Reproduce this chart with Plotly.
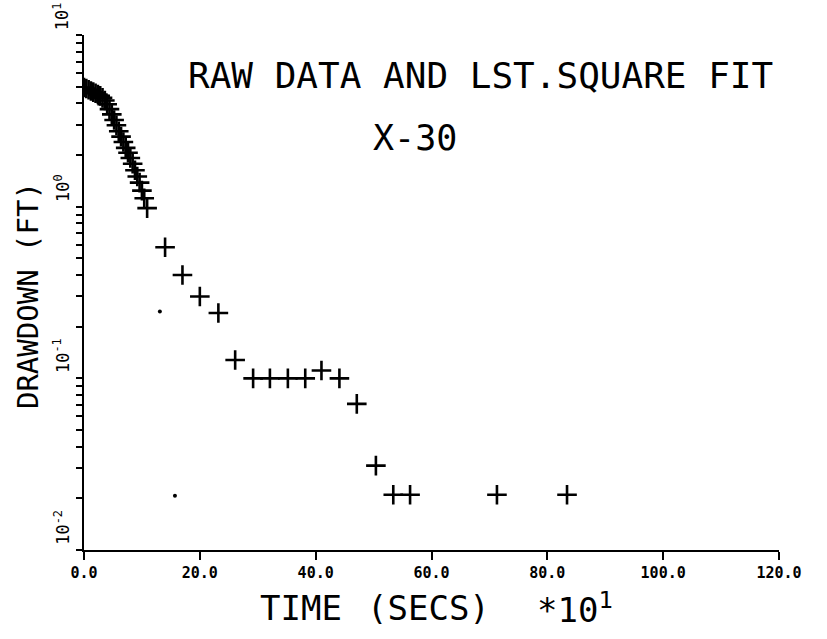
import plotly.graph_objects as go

# ---- data (time in units of 10 s, drawdown in ft) ----
cluster_time = [0.0, 0.4, 0.8, 1.2, 1.6, 2.0, 2.4, 2.8, 3.2, 3.6, 4.0, 4.4, 4.8, 5.2,
                5.6, 6.0, 6.4, 6.8, 7.2, 7.6, 8.0, 8.4, 8.8, 9.2, 9.6, 10.0, 10.4, 10.9]
cluster_drawdown = [4.95, 4.88, 4.80, 4.72, 4.65, 4.58, 4.50, 4.42, 4.30, 4.15, 3.95, 3.70,
                    3.45, 3.20, 2.98, 2.75, 2.56, 2.38, 2.20, 2.06, 1.92, 1.78, 1.63, 1.50,
                    1.38, 1.24, 1.12, 0.98]
late_time = [14.0, 17.0, 20.0, 23.2, 26.1, 29.2, 32.1, 35.2, 38.2, 41.0, 44.1, 47.1,
             50.4, 53.4, 56.3, 71.3, 83.4]
late_drawdown = [0.58, 0.40, 0.30, 0.24, 0.128, 0.10, 0.10, 0.10, 0.10, 0.111, 0.10, 0.071,
                 0.031, 0.021, 0.021, 0.021, 0.021]
dot_time = [15.7, 13.1]
dot_drawdown = [0.0207, 0.245]

x_tickvals = [0, 20, 40, 60, 80, 100, 120]
x_ticktext = ["0.0", "20.0", "40.0", "60.0", "80.0", "100.0", "120.0"]
y_decades = [-2, -1, 0, 1]
y_decade_text = ["10<sup>-2</sup>", "10<sup>-1</sup>", "10<sup>0</sup>", "10<sup>1</sup>"]

FONT = "DejaVu Sans Mono"

fig = go.Figure()
fig.add_trace(go.Scatter(
    x=cluster_time + late_time, y=cluster_drawdown + late_drawdown,
    mode="markers",
    marker=dict(symbol="cross-thin", size=14, line=dict(width=2.6, color="black"), color="black"),
    showlegend=False, hoverinfo="x+y"))
fig.add_trace(go.Scatter(
    x=dot_time, y=dot_drawdown, mode="markers",
    marker=dict(symbol="circle", size=4, color="black"),
    showlegend=False))

# minor+major tick positions on log axis
y_ticks = []
for d in [-2, -1, 0]:
    for m in range(1, 10):
        y_ticks.append(m * 10 ** d)
y_ticks.append(10.0)

fig.update_layout(
    width=827, height=639,
    margin=dict(l=84, r=48, t=35, b=89),
    paper_bgcolor="white", plot_bgcolor="white",
    font=dict(family=FONT, color="black"),
    xaxis=dict(range=[0, 120], showline=True, linewidth=2, linecolor="black",
               ticks="outside", ticklen=8, tickwidth=2, tickcolor="black",
               tickvals=x_tickvals, ticktext=x_ticktext,
               tickfont=dict(family=FONT, size=15, color="black", weight="bold"),
               showgrid=False, zeroline=False),
    yaxis=dict(type="log", range=[-2, 1], showline=True, linewidth=2, linecolor="black",
               ticks="outside", ticklen=6, tickwidth=2, tickcolor="black",
               tickvals=y_ticks, showticklabels=False,
               showgrid=False, zeroline=False),
)

for d, txt in zip(y_decades, y_decade_text):
    fig.add_annotation(x=-0.014, xref="paper", y=d, yref="y", text=txt, textangle=-90,
                       showarrow=False, xanchor="right", yanchor="bottom", yshift=3,
                       font=dict(family=FONT, size=17, color="black"))

fig.add_annotation(x=0.57, y=0.922, xref="paper", yref="paper",
                   text="RAW DATA AND LST.SQUARE FIT", showarrow=False,
                   xanchor="center", yanchor="middle",
                   font=dict(family=FONT, size=36, color="black"))
fig.add_annotation(x=0.476, y=0.80, xref="paper", yref="paper",
                   text="X-30", showarrow=False, xanchor="center", yanchor="middle",
                   font=dict(family=FONT, size=35, color="black"))

fig.add_annotation(x=0.25, y=-0.113, xref="paper", yref="paper", text="TIME",
                   showarrow=False, xanchor="left", yanchor="middle",
                   font=dict(family=FONT, size=34, color="black"))
fig.add_annotation(x=0.404, y=-0.113, xref="paper", yref="paper", text="(SECS)",
                   showarrow=False, xanchor="left", yanchor="middle",
                   font=dict(family=FONT, size=34, color="black"))
fig.add_annotation(x=0.649, y=-0.113, xref="paper", yref="paper", text="*10<sup>1</sup>",
                   showarrow=False, xanchor="left", yanchor="middle",
                   font=dict(family=FONT, size=34, color="black"))

fig.add_annotation(x=-0.0806, y=0.495, xref="paper", yref="paper", text="DRAWDOWN (FT)",
                   textangle=-90, showarrow=False, xanchor="center", yanchor="middle",
                   font=dict(family=FONT, size=29, color="black"))

fig.write_html("out.html")
